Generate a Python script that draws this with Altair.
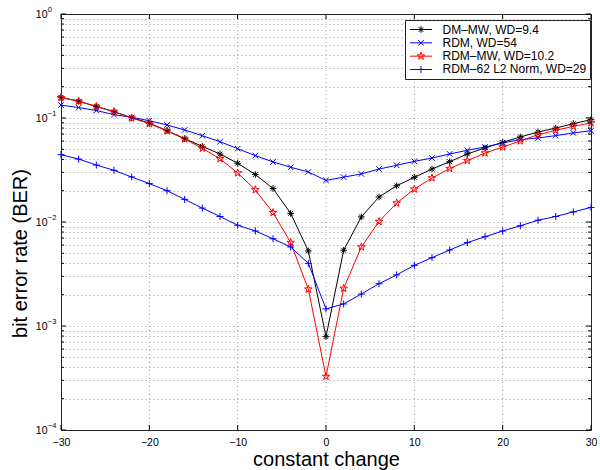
import altair as alt
import pandas as pd

# ---------------- data ----------------
x_values = list(range(-30, 31, 2))
series_names = ["DM–MW, WD=9.4", "RDM, WD=54", "RDM–MW, WD=10.2", "RDM–62 L2 Norm, WD=29"]
series_colors = ["#000000", "#0000ff", "#ff0000", "#0000ff"]

dm_mw = [0.158, 0.145, 0.129, 0.115, 0.1007, 0.0895, 0.0756, 0.0633, 0.0534, 0.0451, 0.0367,
         0.0286, 0.021, 0.0121, 0.00527, 0.00079, 0.00535, 0.0112, 0.0174, 0.0223, 0.0269,
         0.0323, 0.038, 0.0451, 0.0515, 0.0584, 0.0657, 0.0733, 0.080, 0.0882, 0.0964]
rdm = [0.133, 0.126, 0.118, 0.1077, 0.1015, 0.0942, 0.0857, 0.0767, 0.0676, 0.0592, 0.0507,
       0.0435, 0.0378, 0.0336, 0.0303, 0.0251, 0.027, 0.029, 0.0323, 0.0351, 0.0383,
       0.0412, 0.0451, 0.0489, 0.0526, 0.0575, 0.062, 0.0642, 0.0677, 0.0718, 0.0755]
rdm_mw = [0.157, 0.145, 0.129, 0.115, 0.100, 0.0882, 0.0752, 0.0628, 0.0511, 0.0406, 0.0296,
          0.0204, 0.0123, 0.00634, 0.00226, 0.000327, 0.0023, 0.00575, 0.0101, 0.0152, 0.0207,
          0.0265, 0.0326, 0.0389, 0.046, 0.0526, 0.0601, 0.0692, 0.076, 0.0832, 0.0895]
rdm62 = [0.0444, 0.0403, 0.0353, 0.0314, 0.0271, 0.0234, 0.0200, 0.0165, 0.0136, 0.0113, 0.0093,
         0.0082, 0.0069, 0.00575, 0.0040, 0.00146, 0.00163, 0.00203, 0.00255, 0.0031, 0.00383,
         0.00454, 0.00538, 0.00633, 0.00722, 0.00819, 0.0092, 0.0104, 0.0113, 0.0125, 0.0138]

x_tick_values = [-30, -20, -10, 0, 10, 20, 30]
x_grid_values = [-20, -10, 0, 10, 20]
y_major = [1, 0.1, 0.01, 0.001, 0.0001]
y_exponents = ["0", "−1", "−2", "−3", "−4"]
y_minor = [m * 10.0 ** k for k in range(-4, 0) for m in range(2, 10)]
y_grid_values = [v for v in y_major if v not in (1, 0.0001)] + y_minor

# ---------------- style ----------------
FONT = "Liberation Sans"
W, H = 530, 416
GRID = "#999999"

asterisk = "M0,-1L0,1M-1,0L1,0M-0.7,-0.7L0.7,0.7M-0.7,0.7L0.7,-0.7"
xmark = "M-1,-1L1,1M-1,1L1,-1"
star = ("M0,-1L0.2245,-0.309L0.951,-0.309L0.363,0.118L0.588,0.809L0,0.382"
        "L-0.588,0.809L-0.363,0.118L-0.951,-0.309L-0.2245,-0.309Z")
plus = "M0,-1L0,1M-1,0L1,0"
marker_paths = [asterisk, xmark, star, plus]
marker_sizes = [44, 31, 64, 49]


def scaled(path, f):
    out = []
    num = ""
    for ch in path:
        if ch in "-.0123456789":
            num += ch
        else:
            if num:
                out.append(f"{float(num) * f:.3f}")
                num = ""
            out.append(ch)
    if num:
        out.append(f"{float(num) * f:.3f}")
    return "".join(out)


legend_line = "M-2.2,0L2.2,0"
legend_paths = [legend_line + scaled(asterisk, 0.66), legend_line + scaled(xmark, 0.56),
                legend_line + scaled(star, 0.8), legend_line + scaled(plus, 0.7)]

rows = []
for name, vals in zip(series_names, [dm_mw, rdm, rdm_mw, rdm62]):
    for xv, yv in zip(x_values, vals):
        rows.append({"x": xv, "ber": yv, "series": name})
df = pd.DataFrame(rows)

x_scale = alt.Scale(domain=[-30, 30], nice=False, zero=False)
y_scale = alt.Scale(type="log", domain=[0.0001, 1], nice=False)

x_axis = alt.Axis(
    values=x_tick_values, format="d", grid=False, title="constant change",
    labelBaseline="alphabetic", labelPadding=15.7, labelFlush=False, labelOverlap=False,
    titleX=W / 2, titleY=35, titleBaseline="alphabetic", titleAlign="center")
y_axis = alt.Axis(
    values=y_grid_values, labels=False, grid=True, gridDash=[1, 3], gridColor=GRID,
    gridWidth=1, title="bit error rate (BER)", titleX=-34.5, titleY=239, titleAngle=270,
    titleBaseline="alphabetic", titleAlign="center")


def X(field):
    return alt.X(field, scale=x_scale, axis=x_axis)


def Y(field):
    return alt.Y(field, scale=y_scale, axis=y_axis)


base = alt.Chart(df)

xgrid_layer = alt.Chart(pd.DataFrame({"v": x_grid_values})).mark_rule(
    strokeDash=[1, 3], color=GRID, strokeWidth=1).encode(x=X("v:Q"))

line_layers = []
point_layers = []
for name, col, path, size in zip(series_names, series_colors, marker_paths, marker_sizes):
    sub = base.transform_filter(alt.datum.series == name)
    line_layers.append(sub.mark_line(strokeWidth=1, color=col).encode(x=X("x:Q"), y=Y("ber:Q")))
    point_layers.append(
        sub.mark_point(shape=path, size=size, filled=False, strokeWidth=1, opacity=1, color=col)
        .encode(x=X("x:Q"), y=Y("ber:Q")))

leg = alt.Legend(title=None, orient="none", legendX=344, legendY=6, fillColor="white",
                 strokeColor="#222222", padding=3.5, cornerRadius=0, labelFont=FONT,
                 labelFontSize=12, labelColor="black", labelOffset=15.5, symbolOffset=6.5,
                 symbolSize=100, symbolStrokeWidth=1, symbolOpacity=1, rowPadding=1.33,
                 labelLimit=400)
legend_layer = base.mark_point(opacity=0, size=100, filled=False, strokeWidth=1).encode(
    x=X("x:Q"), y=Y("ber:Q"),
    color=alt.Color("series:N", scale=alt.Scale(domain=series_names, range=series_colors), legend=leg),
    shape=alt.Shape("series:N", scale=alt.Scale(domain=series_names, range=legend_paths), legend=leg))

ymaj_df = pd.DataFrame({"v": y_major, "base": ["10"] * len(y_major), "exp": y_exponents})
ymin_df = pd.DataFrame({"v": y_minor})
xt_df = pd.DataFrame({"v": x_tick_values})


def yrule(d, x0, x1):
    return alt.Chart(d).mark_rule(color="black", strokeWidth=1).encode(
        y=Y("v:Q"), x=alt.value(x0), x2=alt.value(x1))


def xrule(d, y0, y1):
    return alt.Chart(d).mark_rule(color="black", strokeWidth=1).encode(
        x=X("v:Q"), y=alt.value(y0), y2=alt.value(y1))


tick_layers = [yrule(ymaj_df, 0, 5), yrule(ymaj_df, W, W - 5),
               yrule(ymin_df, 0, 3), yrule(ymin_df, W, W - 3),
               xrule(xt_df, H, H - 5), xrule(xt_df, 0, 5)]

ylab_base = alt.Chart(ymaj_df).mark_text(align="right", baseline="alphabetic", dy=3.7,
                                         font=FONT, fontSize=10.5, color="black").encode(
    y=Y("v:Q"), x=alt.value(-13.5), text="base:N")
ylab_exp = alt.Chart(ymaj_df).mark_text(align="left", baseline="alphabetic", dy=-2.5,
                                        font=FONT, fontSize=7.5, color="black").encode(
    y=Y("v:Q"), x=alt.value(-13.2), text="exp:N")

chart = alt.layer(xgrid_layer, *line_layers, *point_layers, legend_layer, *tick_layers,
                  ylab_base, ylab_exp).properties(
    width=W, height=H,
    padding={"left": 61, "top": 14, "right": 9, "bottom": 40},
    autosize=alt.AutoSizeParams(type="none"),
).configure_view(stroke="#262626", strokeWidth=1).configure_axis(
    domain=False, ticks=False, tickSize=0, labelFont=FONT, titleFont=FONT,
    labelColor="black", titleColor="black", titleFontWeight="normal",
    labelFontSize=10.5, titleFontSize=20)

chart.save("out.html", embed_options={"renderer": "svg", "actions": False})
